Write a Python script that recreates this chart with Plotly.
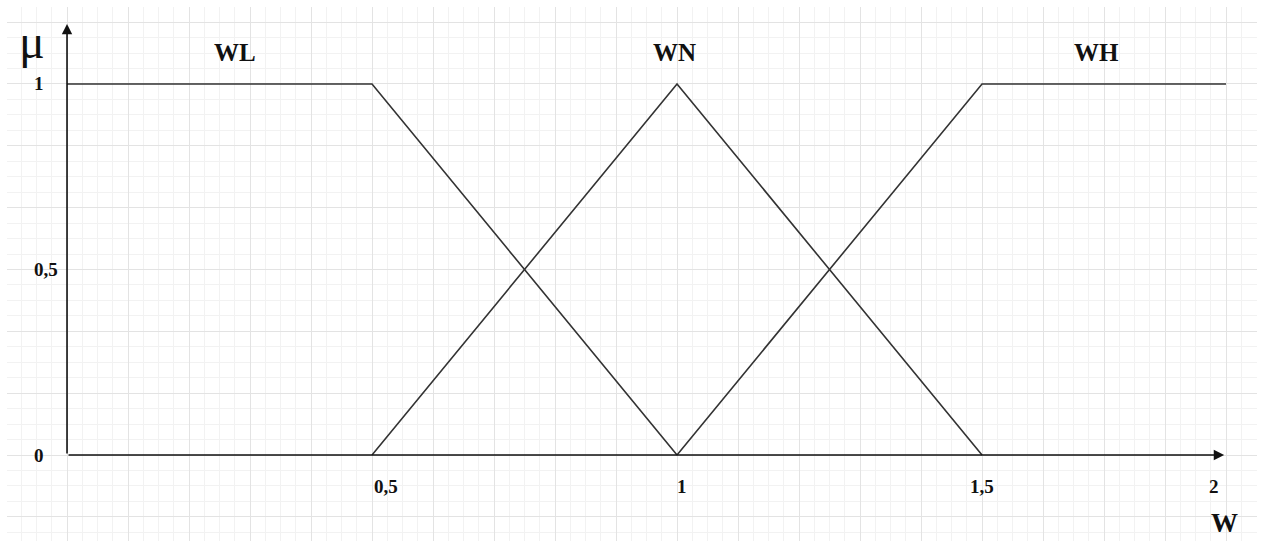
import plotly.graph_objects as go

# ---- data ----
wl_x = [0.0, 0.5, 1.0]
wl_y = [1.0, 1.0, 0.0]
wn_x = [0.5, 1.0, 1.5]
wn_y = [0.0, 1.0, 0.0]
wh_x = [1.0, 1.5, 1.9]
wh_y = [0.0, 1.0, 1.0]
set_names = ["WL", "WN", "WH"]
set_label_x = [0.275, 0.996, 1.687]
x_tick_vals = [0.5, 1.0, 1.5, 1.88]
x_tick_text = ["0,5", "1", "1,5", "2"]
y_tick_vals = [0.0, 0.5, 1.0]
y_tick_text = ["0", "0,5", "1"]

LINE = "#333333"
FONT = "Liberation Serif"

fig = go.Figure()
for xs, ys in [(wl_x, wl_y), (wn_x, wn_y), (wh_x, wh_y)]:
    fig.add_trace(go.Scatter(x=xs, y=ys, mode="lines",
                             line=dict(color=LINE, width=1.6),
                             showlegend=False, hoverinfo="skip"))

# axes with arrows
fig.add_annotation(x=1.897, y=0, ax=0, ay=0, xref="x", yref="y", axref="x", ayref="y",
                   showarrow=True, arrowhead=2, arrowsize=1.3, arrowwidth=1.6,
                   arrowcolor="#111111", text="")
fig.add_annotation(x=0, y=1.162, ax=0, ay=0, xref="x", yref="y", axref="x", ayref="y",
                   showarrow=True, arrowhead=2, arrowsize=1.3, arrowwidth=1.6,
                   arrowcolor="#111111", text="")

# set labels
for name, lx in zip(set_names, set_label_x):
    fig.add_annotation(x=lx, y=1.085, xref="x", yref="y", text="<b>%s</b>" % name,
                       showarrow=False, font=dict(family=FONT, size=25, color="#111111"))

# x tick labels
x_shift = {"0,5": 14, "1": 5, "1,5": 0, "2": 0}
for v, t in zip(x_tick_vals, x_tick_text):
    fig.add_annotation(x=v, y=-0.086, xref="x", yref="y", text="<b>%s</b>" % t,
                       showarrow=False, xshift=x_shift[t],
                       font=dict(family=FONT, size=19, color="#111111"))

# y tick labels
for v, t in zip(y_tick_vals, y_tick_text):
    fig.add_annotation(x=-0.057, y=v, xref="x", yref="y", text="<b>%s</b>" % t,
                       showarrow=False, xanchor="left",
                       font=dict(family=FONT, size=19, color="#111111"))

# axis titles
fig.add_annotation(x=-0.058, y=1.115, xref="x", yref="y", text="μ", showarrow=False,
                   font=dict(family=FONT, size=48, color="#111111"))
fig.add_annotation(x=1.898, y=-0.184, xref="x", yref="y", text="<b>W</b>", showarrow=False,
                   font=dict(family=FONT, size=27, color="#111111"))

fig.update_xaxes(range=[-0.0984, 1.9508], tick0=0, dtick=0.1, showgrid=True,
                 gridcolor="#e3e3e3", gridwidth=1,
                 minor=dict(dtick=0.025, tick0=0, showgrid=True, gridcolor="#f2f2f2", gridwidth=1),
                 showticklabels=False, zeroline=False, showline=False, ticks="")
fig.update_yaxes(range=[-0.2318, 1.2075], tick0=0, dtick=1/6, showgrid=True,
                 gridcolor="#e3e3e3", gridwidth=1,
                 minor=dict(dtick=1/24, tick0=0, showgrid=True, gridcolor="#f2f2f2", gridwidth=1),
                 showticklabels=False, zeroline=False, showline=False, ticks="")
fig.update_layout(width=1265, height=541, margin=dict(l=7, r=8, t=7, b=0),
                  paper_bgcolor="white", plot_bgcolor="white")
fig.write_html("out.html", config={"displayModeBar": False},
               post_script="document.body.style.margin='0';document.body.style.overflow='hidden';")
